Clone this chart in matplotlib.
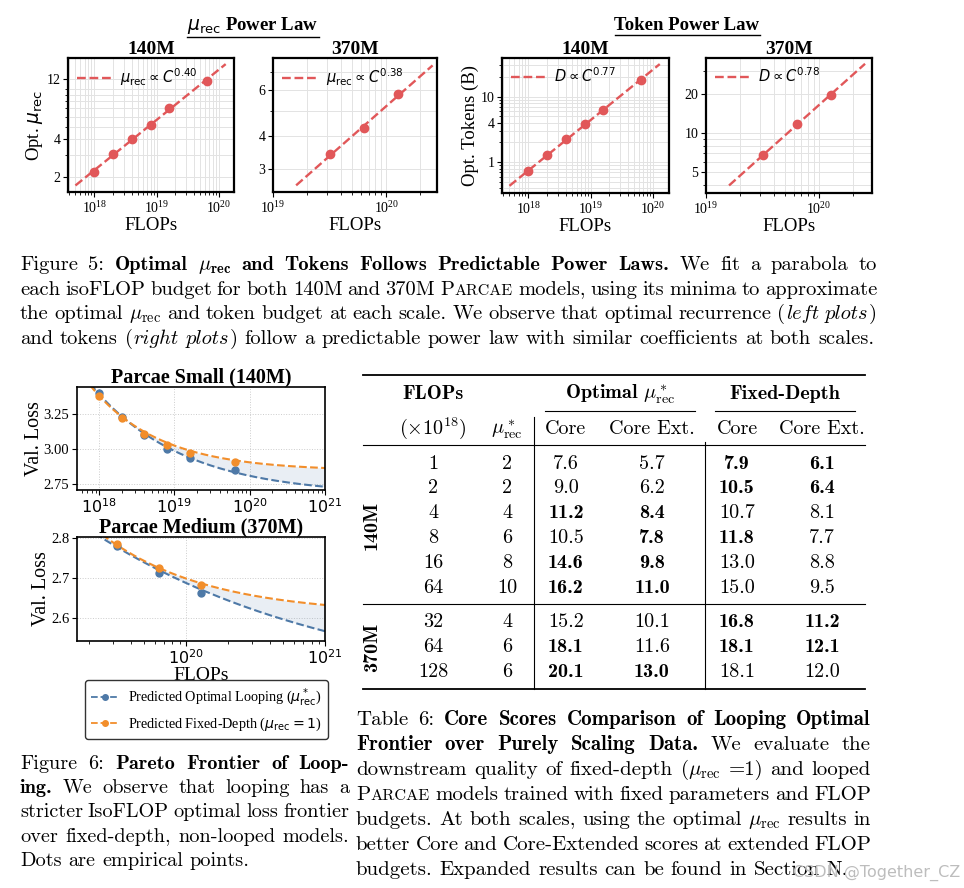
import matplotlib
matplotlib.use('Agg')
import numpy as np
import matplotlib.pyplot as plt
from matplotlib.lines import Line2D
from matplotlib.ticker import FixedLocator, LogLocator, NullFormatter, FuncFormatter

plt.rcParams['font.family'] = ['Liberation Serif', 'DejaVu Serif']
plt.rcParams['mathtext.fontset'] = 'dejavusans'

W, H = 964, 888
RED, BLUE, ORANGE = '#e15759', '#4e79a7', '#f28e2b'

# ---------------- data ----------------
flops_140 = [1e18, 2e18, 4e18, 8e18, 1.6e19, 6.4e19]
flops_370 = [3.2e19, 6.4e19, 1.28e20]
opt_mu_140 = [2.19, 3.04, 4.0, 5.16, 7.06, 11.6]
opt_mu_370 = [3.42, 4.29, 5.8]
opt_tok_140 = [0.73, 1.28, 2.24, 3.8, 6.2, 17.8]
opt_tok_370 = [6.8, 11.7, 19.6]
mu_exponents = [0.40, 0.38]
tok_exponents = [0.77, 0.78]

# empirical loss points (dots)
loss_loop_140 = [3.398, 3.226, 3.098, 3.000, 2.936, 2.848]
loss_fixed_140 = [3.379, 3.219, 3.107, 3.026, 2.971, 2.909]
loss_loop_370 = [2.779, 2.713, 2.662]
loss_fixed_370 = [2.784, 2.724, 2.683]

# predicted frontier curves, values read at a few FLOP budgets
pred_flops_140 = [1e18, 1e19, 1e20, 1e21]
pred_loop_140 = [3.393, 2.990, 2.805, 2.731]
pred_fixed_140 = [3.381, 3.024, 2.905, 2.864]
pred_flops_370 = [3.16e19, 1e20, 3.16e20, 1e21]
pred_loop_370 = [2.778, 2.686, 2.620, 2.566]
pred_fixed_370 = [2.783, 2.698, 2.655, 2.632]

table_flops_140 = [1, 2, 4, 8, 16, 64]
table_mu_140 = [2, 2, 4, 6, 8, 10]
opt_core_140 = [7.6, 9.0, 11.2, 10.5, 14.6, 16.2]
opt_ext_140 = [5.7, 6.2, 8.4, 7.8, 9.8, 11.0]
fd_core_140 = [7.9, 10.5, 10.7, 11.8, 13.0, 15.0]
fd_ext_140 = [6.1, 6.4, 8.1, 7.7, 8.8, 9.5]
table_flops_370 = [32, 64, 128]
table_mu_370 = [4, 6, 6]
opt_core_370 = [15.2, 18.1, 20.1]
opt_ext_370 = [10.1, 11.6, 13.0]
fd_core_370 = [16.8, 18.1, 18.1]
fd_ext_370 = [11.2, 12.1, 12.0]

fig = plt.figure(figsize=(W / 100, H / 100), dpi=100)
renderer = fig.canvas.get_renderer()


def px_axes(l, t, r, b):
    return fig.add_axes([l / W, 1 - b / H, (r - l) / W, (b - t) / H])


def fx(x):
    return x / W


def fy(y):
    return 1 - y / H


# ---------------- power-law panels ----------------
def power_panel(rect, x, y, expo, sym, xlim, ylim, yticks, title, ylabel):
    ax = px_axes(*rect)
    ax.set_xscale('log')
    ax.set_yscale('log')
    x = np.asarray(x)
    y = np.asarray(y)
    b = np.mean(np.log10(y) - expo * np.log10(x))
    xs = np.geomspace(x.min() / 2, x.max() * 2, 60)
    ax.plot(xs, 10 ** b * xs ** expo, '--', color=RED, lw=1.7,
            label=rf'${sym}\propto C^{{{expo:.2f}}}$', zorder=3)
    ax.plot(x, y, 'o', color=RED, ms=6, zorder=4)
    ax.set_xlim(xlim)
    ax.set_ylim(ylim)
    ax.yaxis.set_major_locator(FixedLocator(yticks))
    ax.yaxis.set_major_formatter(FuncFormatter(lambda v, p: f'{v:g}'))
    ax.yaxis.set_minor_locator(LogLocator(base=10, subs=np.arange(1, 10) * 1.0, numticks=30))
    ax.yaxis.set_minor_formatter(NullFormatter())
    ax.xaxis.set_major_locator(LogLocator(base=10, numticks=30))
    ax.xaxis.set_minor_locator(LogLocator(base=10, subs=np.arange(2, 10) * 1.0, numticks=30))
    ax.xaxis.set_minor_formatter(NullFormatter())
    ax.grid(True, which='both', color='#e3e3e3', lw=0.7)
    ax.set_axisbelow(True)
    for s in ax.spines.values():
        s.set_linewidth(1.6)
    ax.tick_params(which='major', length=3.5, width=0.8, labelsize=10, pad=2)
    ax.tick_params(which='minor', length=2, width=0.6)
    ax.set_title(title, fontsize=14, fontweight='bold', pad=3)
    ax.set_xlabel('FLOPs', fontsize=13.5, labelpad=1)
    if ylabel:
        ax.set_ylabel(ylabel, fontsize=13.5, labelpad=1)
    ax.legend(loc='upper left', frameon=False, fontsize=10.5, handlelength=2.4,
              handletextpad=0.6, borderaxespad=0.2)
    return ax


power_panel((68, 58, 234, 192), flops_140, opt_mu_140, mu_exponents[0], r'\mu_\mathrm{rec}',
            (3.8e17, 1.74e20), (1.52, 17.6), [2, 4, 12], '140M', r'Opt. $\mu_\mathrm{rec}$')
power_panel((273, 58, 437, 192), flops_370, opt_mu_370, mu_exponents[1], r'\mu_\mathrm{rec}',
            (1e19, 2.8e20), (2.45, 7.95), [3, 4, 6], '370M', None)
power_panel((502, 58, 669, 193), flops_140, opt_tok_140, tok_exponents[0], 'D',
            (3.8e17, 1.8e20), (0.34, 38.7), [1, 4, 10], '140M', 'Opt. Tokens (B)')
power_panel((706, 58, 872, 193), flops_370, opt_tok_370, tok_exponents[1], 'D',
            (1e19, 2.95e20), (3.44, 37.9), [5, 10, 20], '370M', None)


def underlined_title(x, y, s, size):
    t = fig.text(fx(x), fy(y), s, ha='center', va='center', fontsize=size, fontweight='bold')
    bb = t.get_window_extent(renderer)
    fig.add_artist(Line2D([bb.x0 / W, bb.x1 / W], [(bb.y0 - 1.5) / H] * 2, color='black', lw=1.0))


underlined_title(253, 25, r'$\mu_\mathrm{rec}$ Power Law', 13.5)
underlined_title(687, 25, 'Token Power Law', 13.5)


# ---------------- loss frontier panels ----------------
def fit_loss_curve(c, l):
    """Fit L = E + A * C^-alpha to the read prediction values."""
    x = np.log(np.asarray(c) / 1e18)
    l = np.asarray(l)
    best = None
    for E in np.linspace(l.min() - 1.0, l.min() - 0.001, 4000):
        p = np.polyfit(x, np.log(l - E), 1)
        r = np.sum((E + np.exp(np.polyval(p, x)) - l) ** 2)
        if best is None or r < best[0]:
            best = (r, E, p)
    return best[1], best[2]


def loss_panel(rect, x, loop, fixed, px, ploop, pfixed, xlim, ylim, yticks, yfmt, title, xlabel):
    ax = px_axes(*rect)
    ax.set_xscale('log')
    xs = np.geomspace(xlim[0], xlim[1], 300)
    Eb, pb = fit_loss_curve(px, ploop)
    Eo, po = fit_loss_curve(px, pfixed)
    yb = Eb + np.exp(np.polyval(pb, np.log(xs / 1e18)))
    yo = Eo + np.exp(np.polyval(po, np.log(xs / 1e18)))
    ax.fill_between(xs, yb, yo, where=yo > yb, interpolate=True, color=BLUE, alpha=0.12, lw=0)
    ax.plot(xs, yb, '--', color=BLUE, lw=1.5)
    ax.plot(xs, yo, '--', color=ORANGE, lw=1.5)
    ax.plot(x, loop, 'o', color=BLUE, ms=5)
    ax.plot(x, fixed, 'o', color=ORANGE, ms=5)
    ax.set_xlim(xlim)
    ax.set_ylim(ylim)
    ax.xaxis.set_major_locator(LogLocator(base=10, numticks=30))
    ax.xaxis.set_minor_locator(LogLocator(base=10, subs=np.arange(2, 10) * 1.0, numticks=30))
    ax.xaxis.set_minor_formatter(NullFormatter())
    ax.yaxis.set_major_locator(FixedLocator(yticks))
    ax.yaxis.set_major_formatter(FuncFormatter(lambda v, p: yfmt.format(v)))
    ax.grid(True, which='major', color='#cccccc', lw=0.7, ls=':')
    ax.set_axisbelow(True)
    for s in ax.spines.values():
        s.set_linewidth(1.2)
    ax.tick_params(axis='x', which='major', labelsize=11.5, labelfontfamily='DejaVu Sans',
                   length=3.5, pad=2)
    ax.tick_params(axis='y', which='major', labelsize=10.5, length=3.5, pad=2)
    ax.tick_params(which='minor', length=2)
    ax.set_title(title, fontsize=14.5, fontweight='bold', pad=3)
    ax.set_ylabel('Val. Loss', fontsize=14.5, labelpad=0)
    if xlabel:
        ax.set_xlabel(xlabel, fontsize=14, labelpad=0)
    return ax


loss_panel((77, 387, 325, 490), flops_140, loss_loop_140, loss_fixed_140,
           pred_flops_140, pred_loop_140, pred_fixed_140,
           (5.1e17, 1e21), (2.707, 3.443), [2.75, 3.0, 3.25], '{:.2f}', 'Parcae Small (140M)', None)
loss_panel((77, 537, 325, 641), flops_370, loss_loop_370, loss_fixed_370,
           pred_flops_370, pred_loop_370, pred_fixed_370,
           (1.65e19, 1e21), (2.542, 2.802), [2.6, 2.7, 2.8], '{:.1f}', 'Parcae Medium (370M)', 'FLOPs')

handles = [Line2D([], [], color=BLUE, ls='--', marker='o', ms=4, lw=1.3),
           Line2D([], [], color=ORANGE, ls='--', marker='o', ms=4, lw=1.3)]
fig.legend(handles, [r'Predicted Optimal Looping ($\mu^*_\mathrm{rec}$)',
                     r'Predicted Fixed-Depth ($\mu_\mathrm{rec}=1$)'],
           loc='center', bbox_to_anchor=(fx(206.5), fy(709.5)), fontsize=10.2,
           frameon=True, fancybox=True, edgecolor='#333333', framealpha=1,
           handlelength=2.0, handletextpad=0.6, borderpad=0.45, labelspacing=0.45)

# ---------------- table ----------------
TS = 14.5


def ttext(x, y, s, bold=False, **kw):
    return fig.text(fx(x), fy(y), s, fontsize=kw.pop('size', TS), family='cmb10' if bold else 'cmr10',
                    math_fontfamily='cm', ha=kw.pop('ha', 'center'), va=kw.pop('va', 'baseline'), **kw)


def hline(y, x0, x1, lw):
    fig.add_artist(Line2D([fx(x0), fx(x1)], [fy(y)] * 2, color='black', lw=lw))


def vline(x, y0, y1, lw):
    fig.add_artist(Line2D([fx(x)] * 2, [fy(y0), fy(y1)], color='black', lw=lw))


col = dict(flops=433, mu=507, oc=566, oe=652, fc=737, fe=822)
hline(375, 363, 865, 1.3)
hline(445, 363, 865, 0.8)
hline(604, 363, 865, 0.8)
hline(689, 363, 865, 1.3)
hline(411, 545, 695, 0.8)
hline(411, 715, 855, 0.8)
vline(534, 417, 689, 0.8)
vline(705, 442, 689, 0.8)

ttext(col['flops'], 399, 'FLOPs', bold=True)
ttext(620, 399, r'Optimal $\mu^*_\mathrm{rec}$', bold=True)
ttext(785, 399, 'Fixed-Depth', bold=True)
ttext(col['flops'], 434, r'($\times10^{18}$)')
ttext(col['mu'], 434, r'$\mu^*_\mathrm{rec}$')
ttext(col['oc'], 434, 'Core')
ttext(col['oe'], 434, 'Core Ext.')
ttext(col['fc'], 434, 'Core')
ttext(col['fe'], 434, 'Core Ext.')


def table_block(ys, flops, mus, oc, oe, fc, fe):
    for i, y in enumerate(ys):
        b = y + 6
        ttext(col['flops'], b, str(flops[i]))
        ttext(col['mu'], b, str(mus[i]))
        ttext(col['oc'], b, f'{oc[i]:.1f}', bold=oc[i] >= fc[i])
        ttext(col['oe'], b, f'{oe[i]:.1f}', bold=oe[i] >= fe[i])
        ttext(col['fc'], b, f'{fc[i]:.1f}', bold=fc[i] >= oc[i])
        ttext(col['fe'], b, f'{fe[i]:.1f}', bold=fe[i] >= oe[i])


table_block([463, 487, 512, 537, 562, 587], table_flops_140, table_mu_140,
            opt_core_140, opt_ext_140, fd_core_140, fd_ext_140)
table_block([621, 646, 671], table_flops_370, table_mu_370,
            opt_core_370, opt_ext_370, fd_core_370, fd_ext_370)
ttext(372, 525, '140M', bold=True, rotation=90, va='center')
ttext(372, 647, '370M', bold=True, rotation=90, va='center')

# ---------------- captions (justified paragraphs) ----------------
STYLE = {'r': ('cmr10', 1.0), 'b': ('cmb10', 1.0), 'i': ('cmmi10', 1.0), 's': ('cmr10', 0.78)}


def parse_line(runs):
    words = [[]]
    for st, txt in runs:
        pieces = txt.split(' ')
        for k, p in enumerate(pieces):
            if k > 0 and words[-1]:
                words.append([])
            if p:
                words[-1].append((st, p))
    return [w for w in words if w]


def seg_w(t):
    return t.get_window_extent(renderer).width


def paragraph(lines, x0, x1, ys, size):
    em = size * 100 / 72
    space = 0.333 * em
    min_space = 0.26 * em
    fmin = 1.0
    plines = []
    for i, runs in enumerate(lines):
        wl = []
        for w in parse_line(runs):
            segs = []
            for st, s in w:
                fam, sc = STYLE[st]
                t = fig.text(0, 0, s, fontsize=size * sc, family=fam, math_fontfamily='cm',
                             ha='left', va='baseline')
                segs.append(t)
            wl.append(segs)
        if i < len(lines) - 1:
            nat = sum(seg_w(t) for segs in wl for t in segs) + min_space * (len(wl) - 1)
            fmin = min(fmin, (x1 - x0) / nat)
        plines.append(wl)
    for i, wl in enumerate(plines):
        for segs in wl:
            for t in segs:
                t.set_fontsize(t.get_fontsize() * fmin)
        widths = [sum(seg_w(t) for t in segs) + 0.6 * (len(segs) - 1) for segs in wl]
        if i < len(plines) - 1 and len(wl) > 1:
            gap = (x1 - x0 - sum(widths)) / (len(wl) - 1)
        else:
            gap = space * fmin
        x = x0
        for segs, wd in zip(wl, widths):
            xx = x
            for t in segs:
                t.set_position((fx(xx), fy(ys[i])))
                xx += seg_w(t) + 0.6
            x += wd + gap


MU = r'$\mu_\mathrm{rec}$'
fig5_lines = [
    [('r', 'Figure 5: '), ('b', r'Optimal $\mu_\mathbf{rec}$ and Tokens Follows Predictable Power Laws.'),
     ('r', ' We fit a parabola to')],
    [('r', 'each isoFLOP budget for both 140M and 370M '), ('r', 'P'), ('s', 'ARCAE'),
     ('r', ' models, using its minima to approximate')],
    [('r', 'the optimal ' + MU + ' and token budget at each scale. We observe that optimal recurrence ('),
     ('i', 'left plots'), ('r', ')')],
    [('r', 'and tokens ('), ('i', 'right plots'),
     ('r', ') follow a predictable power law with similar coefficients at both scales.')],
]
fig6_lines = [
    [('r', 'Figure 6: '), ('b', 'Pareto Frontier of Loop-')],
    [('b', 'ing.'), ('r', ' We observe that looping has a')],
    [('r', 'stricter IsoFLOP optimal loss frontier')],
    [('r', 'over fixed-depth, non-looped models.')],
    [('r', 'Dots are empirical points.')],
]
tab6_lines = [
    [('r', 'Table 6: '), ('b', 'Core Scores Comparison of Looping Optimal')],
    [('b', 'Frontier over Purely Scaling Data.'), ('r', ' We evaluate the')],
    [('r', 'downstream quality of fixed-depth (' + MU + ' =1) and looped')],
    [('r', 'P'), ('s', 'ARCAE'), ('r', ' models trained with fixed parameters and FLOP')],
    [('r', 'budgets. At both scales, using the optimal ' + MU + ' results in')],
    [('r', 'better Core and Core-Extended scores at extended FLOP')],
    [('r', 'budgets. Expanded results can be found in Section N.')],
]

paragraph(fig5_lines, 20, 877, [270, 295, 319, 344], 16.5)
paragraph(fig6_lines, 20, 349, [769, 793, 817, 842, 866], 16.5)
paragraph(tab6_lines, 356, 871, [725, 750, 775, 800, 825, 850, 875], 16.5)

fig.text(fx(960), fy(873), 'CSDN @Together_CZ', ha='right', va='center', fontsize=11.5,
         family='DejaVu Sans', color='#bdbdbd')

fig.savefig('out.png', dpi=100)
